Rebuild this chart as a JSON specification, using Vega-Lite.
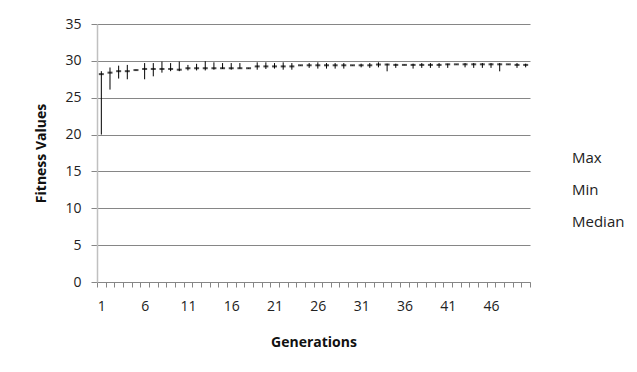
{
  "$schema": "https://vega.github.io/schema/vega-lite/v6.json",
  "width": 433,
  "height": 258,
  "autosize": {"type": "none"},
  "padding": {"left": 97, "top": 24, "right": 107, "bottom": 90},
  "background": "white",
  "config": {
    "view": {"stroke": null},
    "font": "Open Sans",
    "axis": {"labelFont": "Open Sans", "titleFont": "Open Sans", "labelColor": "#222", "titleColor": "#111"},
    "axisY": {"titleFontSize": 14, "titleFontWeight": "bold", "titlePadding": 16,
      "labelOverlap": false, "labelFontSize": 14, "labelPadding": 10,
      "tickSize": 6, "tickColor": "#868686", "gridColor": "#868686", "gridWidth": 1,
      "domainColor": "#c0c0c0", "domainWidth": 1.5}
  },
  "data": {"values": [
    {"gen": 1, "Max": 28.6, "Min": 20.0, "Median": 28.2},
    {"gen": 2, "Max": 29.1, "Min": 26.1, "Median": 28.4},
    {"gen": 3, "Max": 29.35, "Min": 27.6, "Median": 28.6},
    {"gen": 4, "Max": 29.45, "Min": 27.5, "Median": 28.6},
    {"gen": 5, "Max": 28.8, "Min": 28.7, "Median": 28.75},
    {"gen": 6, "Max": 29.7, "Min": 27.5, "Median": 28.9},
    {"gen": 7, "Max": 29.7, "Min": 27.9, "Median": 28.9},
    {"gen": 8, "Max": 29.9, "Min": 28.4, "Median": 28.9},
    {"gen": 9, "Max": 29.7, "Min": 28.6, "Median": 28.9},
    {"gen": 10, "Max": 29.9, "Min": 28.6, "Median": 28.8},
    {"gen": 11, "Max": 29.45, "Min": 28.7, "Median": 29.0},
    {"gen": 12, "Max": 29.6, "Min": 28.7, "Median": 29.0},
    {"gen": 13, "Max": 29.95, "Min": 28.7, "Median": 29.0},
    {"gen": 14, "Max": 29.8, "Min": 28.8, "Median": 29.0},
    {"gen": 15, "Max": 29.7, "Min": 28.9, "Median": 29.0},
    {"gen": 16, "Max": 29.7, "Min": 28.8, "Median": 29.0},
    {"gen": 17, "Max": 29.7, "Min": 28.95, "Median": 29.0},
    {"gen": 18, "Max": 29.05, "Min": 28.95, "Median": 29.0},
    {"gen": 19, "Max": 29.8, "Min": 28.8, "Median": 29.25},
    {"gen": 20, "Max": 29.8, "Min": 28.9, "Median": 29.25},
    {"gen": 21, "Max": 29.7, "Min": 28.95, "Median": 29.25},
    {"gen": 22, "Max": 29.8, "Min": 28.8, "Median": 29.25},
    {"gen": 23, "Max": 29.7, "Min": 28.8, "Median": 29.25},
    {"gen": 24, "Max": 29.42, "Min": 29.36, "Median": 29.4},
    {"gen": 25, "Max": 29.7, "Min": 29.05, "Median": 29.4},
    {"gen": 26, "Max": 29.8, "Min": 28.95, "Median": 29.4},
    {"gen": 27, "Max": 29.7, "Min": 28.95, "Median": 29.4},
    {"gen": 28, "Max": 29.7, "Min": 28.95, "Median": 29.4},
    {"gen": 29, "Max": 29.7, "Min": 28.95, "Median": 29.4},
    {"gen": 30, "Max": 29.42, "Min": 29.36, "Median": 29.4},
    {"gen": 31, "Max": 29.62, "Min": 29.12, "Median": 29.4},
    {"gen": 32, "Max": 29.7, "Min": 29.05, "Median": 29.4},
    {"gen": 33, "Max": 29.8, "Min": 29.12, "Median": 29.5},
    {"gen": 34, "Max": 29.62, "Min": 28.58, "Median": 29.5},
    {"gen": 35, "Max": 29.62, "Min": 29.05, "Median": 29.45},
    {"gen": 36, "Max": 29.47, "Min": 29.42, "Median": 29.45},
    {"gen": 37, "Max": 29.62, "Min": 28.95, "Median": 29.45},
    {"gen": 38, "Max": 29.7, "Min": 29.05, "Median": 29.45},
    {"gen": 39, "Max": 29.7, "Min": 29.05, "Median": 29.45},
    {"gen": 40, "Max": 29.7, "Min": 29.05, "Median": 29.45},
    {"gen": 41, "Max": 29.62, "Min": 29.05, "Median": 29.53},
    {"gen": 42, "Max": 29.55, "Min": 29.5, "Median": 29.53},
    {"gen": 43, "Max": 29.7, "Min": 29.12, "Median": 29.53},
    {"gen": 44, "Max": 29.7, "Min": 29.05, "Median": 29.53},
    {"gen": 45, "Max": 29.7, "Min": 29.05, "Median": 29.53},
    {"gen": 46, "Max": 29.7, "Min": 29.05, "Median": 29.53},
    {"gen": 47, "Max": 29.7, "Min": 28.58, "Median": 29.53},
    {"gen": 48, "Max": 29.55, "Min": 29.5, "Median": 29.53},
    {"gen": 49, "Max": 29.7, "Min": 29.05, "Median": 29.45},
    {"gen": 50, "Max": 29.62, "Min": 29.12, "Median": 29.45}
  ]},
  "encoding": {
    "x": {
      "field": "gen", "type": "ordinal", "sort": "ascending",
      "scale": {"paddingInner": 0, "paddingOuter": 0},
      "axis": {
        "title": "Generations", "titleFontSize": 14, "titleFontWeight": "bold", "titlePadding": 22,
        "labelAngle": 0, "labelFontSize": 14, "labelPadding": 12, "labelOverlap": false,
        "labelExpr": "datum.value % 5 == 1 ? datum.label : ''",
        "tickBand": "extent", "tickSize": 5, "tickColor": "#868686", "domainColor": "#868686",
        "grid": false
      }
    }
  },
  "layer": [
    {
      "mark": {"type": "rule", "color": "black", "strokeWidth": 1},
      "encoding": {
        "y": {"field": "Max", "type": "quantitative", "scale": {"domain": [0, 35], "nice": false},
          "axis": {"title": "Fitness Values", "values": [0, 5, 10, 15, 20, 25, 30, 35]}},
        "y2": {"field": "Min"}
      }
    },
    {
      "mark": {"type": "tick", "color": "black", "size": 5, "thickness": 2},
      "encoding": {"y": {"field": "Median", "type": "quantitative",
        "axis": {"title": "Fitness Values", "values": [0, 5, 10, 15, 20, 25, 30, 35]}}}
    },
    {
      "transform": [{"fold": ["Max", "Min", "Median"], "as": ["series", "val"]}],
      "mark": {"type": "point", "opacity": 0},
      "encoding": {
        "y": {"field": "val", "type": "quantitative",
          "axis": {"title": "Fitness Values", "values": [0, 5, 10, 15, 20, 25, 30, 35]}},
        "color": {"field": "series", "type": "nominal",
          "scale": {"domain": ["Max", "Min", "Median"], "range": ["black", "black", "black"]},
          "legend": {"title": null, "orient": "none", "legendX": 456, "legendY": 126,
            "symbolSize": 0, "symbolOpacity": 0, "symbolStrokeWidth": 0,
            "labelFontSize": 15, "labelColor": "#222", "labelFont": "Open Sans", "rowPadding": 16, "labelOffset": 4}}
      }
    }
  ]
}
